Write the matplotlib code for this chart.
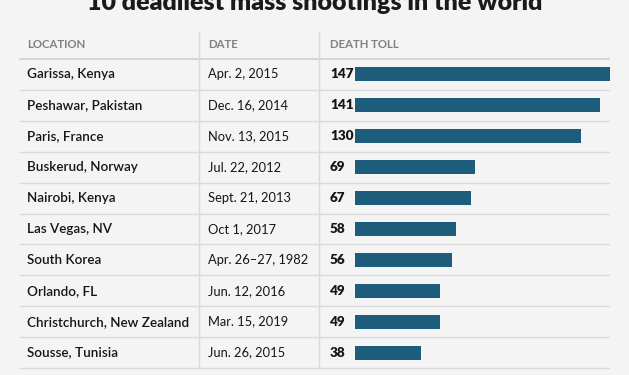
import matplotlib.pyplot as plt

locations = ['Garissa, Kenya', 'Peshawar, Pakistan', 'Paris, France', 'Buskerud, Norway',
             'Nairobi, Kenya', 'Las Vegas, NV', 'South Korea', 'Orlando, FL',
             'Christchurch, New Zealand', 'Sousse, Tunisia']
dates = ['Apr. 2, 2015', 'Dec. 16, 2014', 'Nov. 13, 2015', 'Jul. 22, 2012',
         'Sept. 21, 2013', 'Oct 1, 2017', 'Apr. 26\u201327, 1982', 'Jun. 12, 2016',
         'Mar. 15, 2019', 'Jun. 26, 2015']
deaths = [147, 141, 130, 69, 67, 58, 56, 49, 49, 38]
headers = ['LOCATION', 'DATE', 'DEATH TOLL']

W, H = 629, 375
bg = '#f4f4f4'
bar_color = '#1d5c7a'
line_color = '#dadada'
plt.rcParams['font.family'] = ['Lato', 'DejaVu Sans']

fig = plt.figure(figsize=(W / 100, H / 100), dpi=100, facecolor=bg)

# full-figure axes in pixel units for the table text and rules
ax = fig.add_axes([0, 0, 1, 1])
ax.set_xlim(0, W)
ax.set_ylim(H, 0)
ax.axis('off')

# title is cropped at the top edge, as in the source image
ax.text(W / 2, 10, '10 deadliest mass shootings in the world', ha='center', va='baseline',
        fontsize=18, fontweight='heavy', color='#1a1a1a')

top, row_h = 59, 30.9
n = len(locations)
left, right = 20, 609
col_x = [27, 208, 330]

for x, h in zip(col_x, headers):
    ax.text(x, 45, h, ha='left', va='center', fontsize=8.2, color='#808080', fontweight='bold')

ax.plot([left, right], [top, top], color='#cfcfcf', lw=1.2)
for i in range(n):
    y = top + (i + 1) * row_h
    ax.plot([left, right], [y, y], color=line_color, lw=1)
for x in (198.5, 318.5):
    ax.plot([x, x], [32, top + n * row_h], color=line_color, lw=1)

for i in range(n):
    yc = top + (i + 0.5) * row_h
    ax.text(col_x[0], yc, locations[i], ha='left', va='center', fontsize=9.7,
            color='#151515', fontweight='semibold')
    ax.text(col_x[1], yc, dates[i], ha='left', va='center', fontsize=9.3, color='#151515')
    ax.text(col_x[2], yc, str(deaths[i]), ha='left', va='center', fontsize=9.7,
            color='#151515', fontweight='heavy')

# bar axes aligned with the rows
x0, x1 = 355, 610
bax = fig.add_axes([x0 / W, 1 - (top + n * row_h) / H, (x1 - x0) / W, n * row_h / H])
bax.barh(range(n), deaths, height=0.45, color=bar_color)
bax.set_xlim(0, max(deaths))
bax.set_ylim(n - 0.5, -0.5)
bax.axis('off')

fig.savefig('out.png', dpi=100, facecolor=bg)
